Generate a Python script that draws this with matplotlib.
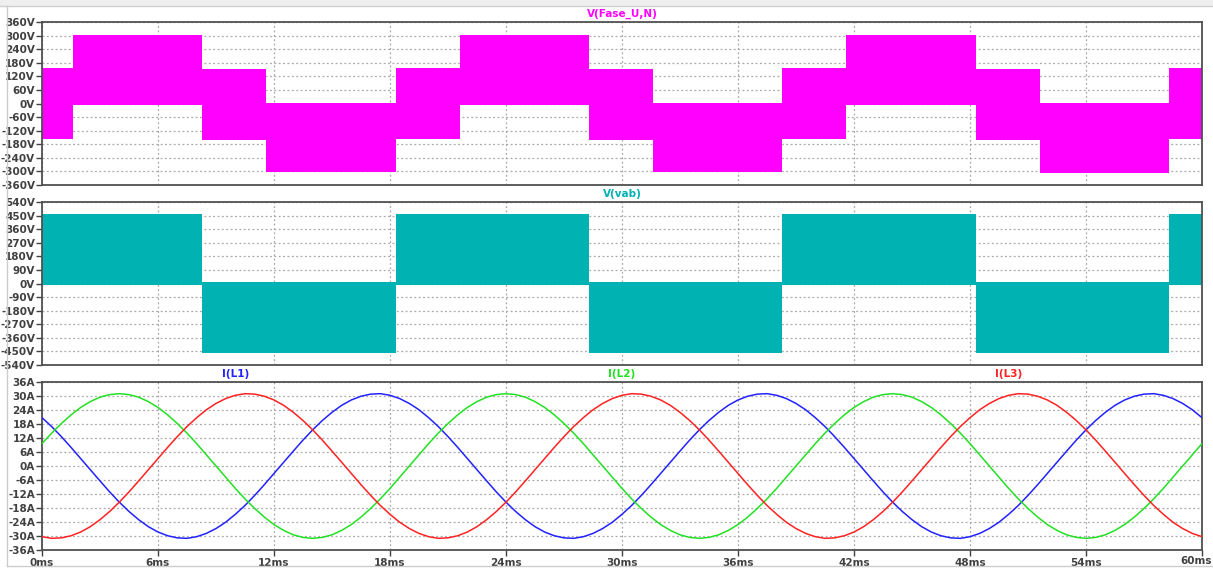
import numpy as np
import matplotlib.pyplot as plt
from matplotlib.lines import Line2D
from matplotlib.patches import Rectangle

# phase voltage V(Fase_U,N): PWM band limits per switching segment
fase_edges = [0, 1.6, 8.3, 11.6, 18.3, 21.6, 28.3, 31.6, 38.3, 41.6, 48.3, 51.6, 58.3, 60]
fase_hi = [155, 302, 152, 4, 155, 302, 152, 4, 155, 302, 152, 3, 158]
fase_lo = [-158, -6, -160, -304, -158, -6, -160, -304, -158, -6, -162, -305, -156]

# line voltage V(vab)
vab_edges = [0, 8.3, 18.3, 28.3, 38.3, 48.3, 58.3, 60]
vab_hi = [458, 8, 458, 8, 458, 8, 462]
vab_lo = [-12, -462, -12, -462, -12, -462, -12]

# inductor currents, sampled every 0.5 ms
t_ms = np.arange(0, 121) * 0.5
i_l1 = [20.7, 16.9, 12.6, 8.0, 3.2, -1.6, -6.4, -11.1, -15.5, -19.5,
        -23.0, -26.0, -28.3, -29.9, -30.8, -31.0, -30.3, -28.9, -26.8, -24.1,
        -20.7, -16.9, -12.6, -8.0, -3.2, 1.6, 6.4, 11.1, 15.5, 19.5,
        23.0, 26.0, 28.3, 29.9, 30.8, 31.0, 30.3, 28.9, 26.8, 24.1,
        20.7, 16.9, 12.6, 8.0, 3.2, -1.6, -6.4, -11.1, -15.5, -19.5,
        -23.0, -26.0, -28.3, -29.9, -30.8, -31.0, -30.3, -28.9, -26.8, -24.1,
        -20.7, -16.9, -12.6, -8.0, -3.2, 1.6, 6.4, 11.1, 15.5, 19.5,
        23.0, 26.0, 28.3, 29.9, 30.8, 31.0, 30.3, 28.9, 26.8, 24.1,
        20.7, 16.9, 12.6, 8.0, 3.2, -1.6, -6.4, -11.1, -15.5, -19.5,
        -23.0, -26.0, -28.3, -29.9, -30.8, -31.0, -30.3, -28.9, -26.8, -24.1,
        -20.7, -16.9, -12.6, -8.0, -3.2, 1.6, 6.4, 11.1, 15.5, 19.5,
        23.0, 26.0, 28.3, 29.9, 30.8, 31.0, 30.3, 28.9, 26.8, 24.1,
        20.7]
i_l2 = [9.6, 14.1, 18.2, 21.9, 25.1, 27.6, 29.5, 30.6, 31.0, 30.6,
        29.5, 27.6, 25.1, 21.9, 18.2, 14.1, 9.6, 4.8, 0.0, -4.8,
        -9.6, -14.1, -18.2, -21.9, -25.1, -27.6, -29.5, -30.6, -31.0, -30.6,
        -29.5, -27.6, -25.1, -21.9, -18.2, -14.1, -9.6, -4.8, 0.0, 4.8,
        9.6, 14.1, 18.2, 21.9, 25.1, 27.6, 29.5, 30.6, 31.0, 30.6,
        29.5, 27.6, 25.1, 21.9, 18.2, 14.1, 9.6, 4.8, 0.0, -4.8,
        -9.6, -14.1, -18.2, -21.9, -25.1, -27.6, -29.5, -30.6, -31.0, -30.6,
        -29.5, -27.6, -25.1, -21.9, -18.2, -14.1, -9.6, -4.8, 0.0, 4.8,
        9.6, 14.1, 18.2, 21.9, 25.1, 27.6, 29.5, 30.6, 31.0, 30.6,
        29.5, 27.6, 25.1, 21.9, 18.2, 14.1, 9.6, 4.8, 0.0, -4.8,
        -9.6, -14.1, -18.2, -21.9, -25.1, -27.6, -29.5, -30.6, -31.0, -30.6,
        -29.5, -27.6, -25.1, -21.9, -18.2, -14.1, -9.6, -4.8, 0.0, 4.8,
        9.6]
i_l3 = [-30.3, -31.0, -30.8, -29.9, -28.3, -26.0, -23.0, -19.5, -15.5, -11.1,
        -6.4, -1.6, 3.2, 8.0, 12.6, 16.9, 20.7, 24.1, 26.8, 28.9,
        30.3, 31.0, 30.8, 29.9, 28.3, 26.0, 23.0, 19.5, 15.5, 11.1,
        6.4, 1.6, -3.2, -8.0, -12.6, -16.9, -20.7, -24.1, -26.8, -28.9,
        -30.3, -31.0, -30.8, -29.9, -28.3, -26.0, -23.0, -19.5, -15.5, -11.1,
        -6.4, -1.6, 3.2, 8.0, 12.6, 16.9, 20.7, 24.1, 26.8, 28.9,
        30.3, 31.0, 30.8, 29.9, 28.3, 26.0, 23.0, 19.5, 15.5, 11.1,
        6.4, 1.6, -3.2, -8.0, -12.6, -16.9, -20.7, -24.1, -26.8, -28.9,
        -30.3, -31.0, -30.8, -29.9, -28.3, -26.0, -23.0, -19.5, -15.5, -11.1,
        -6.4, -1.6, 3.2, 8.0, 12.6, 16.9, 20.7, 24.1, 26.8, 28.9,
        30.3, 31.0, 30.8, 29.9, 28.3, 26.0, 23.0, 19.5, 15.5, 11.1,
        6.4, 1.6, -3.2, -8.0, -12.6, -16.9, -20.7, -24.1, -26.8, -28.9,
        -30.3]

x_ticks = [0, 6, 12, 18, 24, 30, 36, 42, 48, 54, 60]
fase_ticks = [-360, -300, -240, -180, -120, -60, 0, 60, 120, 180, 240, 300, 360]
vab_ticks = [-540, -450, -360, -270, -180, -90, 0, 90, 180, 270, 360, 450, 540]
cur_ticks = [-36, -30, -24, -18, -12, -6, 0, 6, 12, 18, 24, 30, 36]

W, H = 1213, 568
fig = plt.figure(figsize=(W / 100, H / 100), dpi=100)
fig.patch.set_facecolor('white')

# window border
fig.add_artist(Rectangle((0, 1 - 6 / H), 1, 6 / H, transform=fig.transFigure,
                         facecolor='#efefef', edgecolor='none'))
fig.add_artist(Line2D([0, 1], [1 - 6 / H, 1 - 6 / H], transform=fig.transFigure,
                      color='#d0d0d0', lw=1))
fig.add_artist(Line2D([7 / W, 7 / W], [2 / H, 1 - 6 / H], transform=fig.transFigure,
                      color='#cccccc', lw=1))
fig.add_artist(Line2D([7 / W, 1], [2 / H, 2 / H], transform=fig.transFigure,
                      color='#cccccc', lw=1))

def pane(top, bottom):
    return fig.add_axes([42 / W, (H - bottom) / H, 1160 / W, (bottom - top) / H])

ax1 = pane(22, 185)
ax2 = pane(202, 365)
ax3 = pane(382, 550)

tick_font = dict(fontsize=7.5, fontweight='bold', color='#404040', family='DejaVu Sans')

def style(ax, yticks, unit, show_x):
    ax.set_xlim(0, 60)
    ax.set_ylim(yticks[0], yticks[-1])
    ax.set_xticks(x_ticks)
    ax.set_yticks(yticks)
    ax.set_yticklabels([f'{v}{unit}' for v in yticks], **tick_font)
    if show_x:
        # last label is drawn separately so it stays inside the window
        names = [f'{v}ms' for v in x_ticks]
        ax.set_xticklabels(names[:-1] + [''], **tick_font)
        fig.text(1196 / W, (H - 556) / H, names[-1], ha='center', va='top', **tick_font)
    else:
        ax.set_xticklabels([])
    ax.tick_params(axis='y', direction='out', length=4, width=1, color='#404040', pad=1)
    ax.tick_params(axis='x', direction='out', length=4 if show_x else 0, width=1,
                   color='#404040', pad=2)
    ax.grid(True, color='#a8a8a8', linestyle=(0, (1.5, 2.0)), linewidth=0.9)
    ax.set_axisbelow(True)
    for s in ax.spines.values():
        s.set_color('#505050')
        s.set_linewidth(1.3)

def band(ax, edges, hi, lo, color):
    hi_s = list(hi) + [hi[-1]]
    lo_s = list(lo) + [lo[-1]]
    ax.fill_between(edges, lo_s, hi_s, step='post', color=color, linewidth=0, zorder=2)

band(ax1, fase_edges, fase_hi, fase_lo, '#ff00ff')
style(ax1, fase_ticks, 'V', False)
ax1.text(0.5, 1.02, 'V(Fase_U,N)', transform=ax1.transAxes, ha='center', va='bottom',
         fontsize=7.5, fontweight='bold', color='#ff00ff')

band(ax2, vab_edges, vab_hi, vab_lo, '#00b2b2')
style(ax2, vab_ticks, 'V', False)
ax2.text(0.5, 1.02, 'V(vab)', transform=ax2.transAxes, ha='center', va='bottom',
         fontsize=7.5, fontweight='bold', color='#00b2b2')

ax3.plot(t_ms, i_l1, color='#2222ff', lw=1.1, zorder=3)
ax3.plot(t_ms, i_l2, color='#22e022', lw=1.1, zorder=3)
ax3.plot(t_ms, i_l3, color='#ff2222', lw=1.1, zorder=3)
style(ax3, cur_ticks, 'A', True)
for xf, name, c in [(1 / 6, 'I(L1)', '#2222ff'), (0.5, 'I(L2)', '#22e022'),
                    (5 / 6, 'I(L3)', '#ff2222')]:
    ax3.text(xf, 1.015, name, transform=ax3.transAxes, ha='center', va='bottom',
             fontsize=7.5, fontweight='bold', color=c)

fig.savefig('out.png', dpi=100)
